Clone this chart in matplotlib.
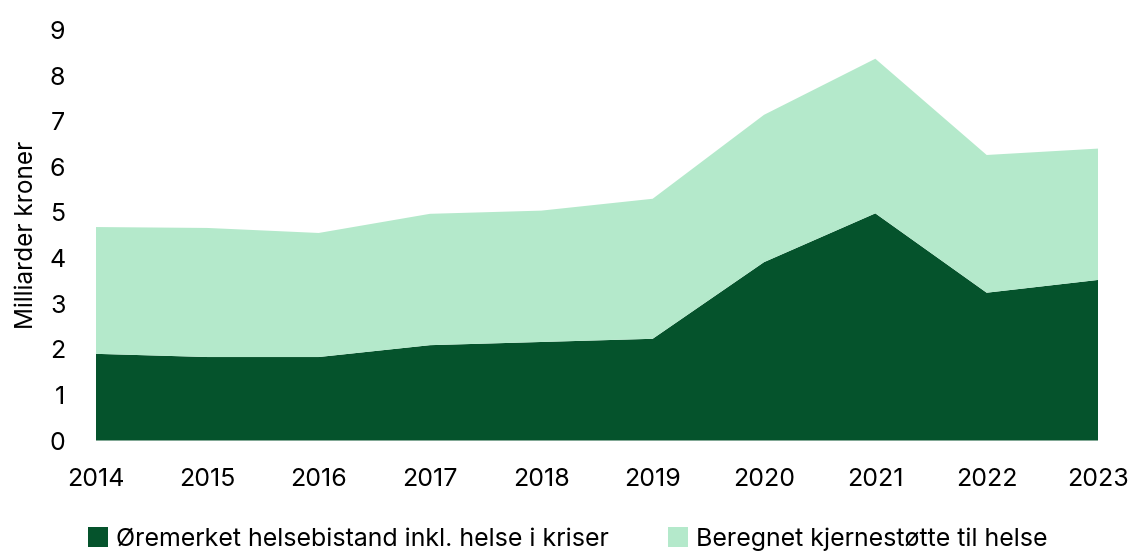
import matplotlib
matplotlib.use("Agg")
import matplotlib.pyplot as plt
from matplotlib.patches import Patch

years = [2014, 2015, 2016, 2017, 2018, 2019, 2020, 2021, 2022, 2023]
oremerket = [1.90, 1.83, 1.83, 2.09, 2.16, 2.23, 3.91, 4.98, 3.24, 3.52]
kjernestotte = [2.78, 2.83, 2.72, 2.88, 2.88, 3.07, 3.23, 3.39, 3.02, 2.88]
series_labels = ["Øremerket helsebistand inkl. helse i kriser", "Beregnet kjernestøtte til helse"]
colors = ["#05532C", "#B4E9CB"]
yticks = list(range(0, 10))

plt.rcParams['font.family'] = ['Inter', 'DejaVu Sans']

fig = plt.figure(figsize=(11.31, 5.54), dpi=100)
ax = fig.add_axes([96/1131, 1-440.5/554, (1098-96)/1131, (440.5-30)/554])
ax.stackplot(years, oremerket, kjernestotte, colors=colors, linewidth=0)
ax.set_xlim(years[0], years[-1])
ax.set_ylim(0, 9)
ax.set_xticks(years)
ax.set_yticks(yticks)
ax.tick_params(axis='both', length=0, labelsize=18)
ax.tick_params(axis='y', pad=22)
ax.tick_params(axis='x', pad=20)
for s in ax.spines.values():
    s.set_visible(False)
ax.set_ylabel("Milliarder kroner", fontsize=17.5, labelpad=8)

handles = [Patch(facecolor=c, edgecolor='none') for c in colors]
fig.legend(handles, series_labels, loc='lower left', bbox_to_anchor=(78/1131, -0.012),
           ncol=2, frameon=False, fontsize=18, handlelength=0.8, handleheight=0.8,
           handletextpad=0.3, columnspacing=2.4, borderaxespad=0)

fig.savefig("out.png", dpi=100)
